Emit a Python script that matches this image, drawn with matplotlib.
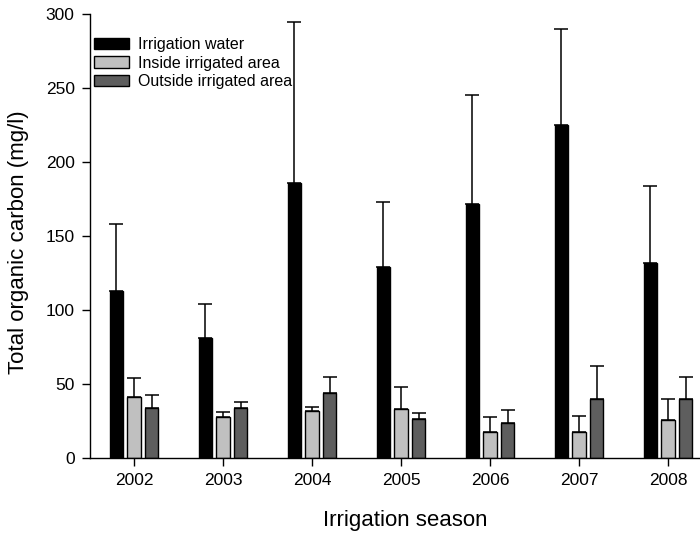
import numpy as np
import matplotlib

matplotlib.use("Agg")
import matplotlib.pyplot as plt

seasons = ["2002", "2003", "2004", "2005", "2006", "2007", "2008"]
series = ["Irrigation water", "Inside irrigated area", "Outside irrigated area"]

water_mean = [112.8, 81.3, 186.0, 128.8, 171.6, 225.0, 132.0]
water_sd = [45.1, 22.7, 108.4, 44.2, 73.7, 65.0, 52.0]

inside_mean = [41.4, 27.7, 32.0, 33.1, 17.8, 17.8, 25.5]
inside_sd = [12.4, 3.6, 2.7, 14.6, 10.1, 10.6, 14.6]

outside_mean = [34.0, 33.8, 43.7, 26.4, 23.9, 40.1, 39.6]
outside_sd = [8.8, 3.8, 10.8, 4.0, 8.3, 22.1, 14.9]

colors = ["#000000", "#c0c0c0", "#5e5e5e"]

plt.rcParams.update(
    {
        "font.family": ["Liberation Sans", "DejaVu Sans"],
        "figure.facecolor": "white",
        "axes.facecolor": "white",
    }
)

fig = plt.figure(figsize=(7.0, 5.33), dpi=100)
ax = fig.add_axes([90 / 700, 1 - 458 / 533, 610 / 700, 444 / 533])

x = np.arange(len(seasons))
width = 0.147
offsets = [-0.198, 0.0, 0.2]
means = [water_mean, inside_mean, outside_mean]
sds = [water_sd, inside_sd, outside_sd]

for name, color, off, m, s in zip(series, colors, offsets, means, sds):
    ax.bar(
        x + off,
        m,
        width,
        color=color,
        edgecolor="black",
        linewidth=1.0,
        label=name,
        zorder=2,
    )
    # one-sided (upper) error bars
    ax.errorbar(
        x + off,
        m,
        yerr=[np.zeros(len(s)), s],
        fmt="none",
        ecolor="black",
        elinewidth=1.1,
        capsize=4.7,
        capthick=1.1,
        zorder=1,
    )

ax.set_xlim(-0.494, 6.36)
ax.set_ylim(0, 300)
ax.set_yticks(np.arange(0, 301, 50))
ax.set_xticks(x)
ax.set_xticklabels(seasons)

ax.spines["top"].set_visible(False)
ax.spines["right"].set_visible(False)
ax.spines["left"].set_linewidth(1.0)
ax.spines["bottom"].set_linewidth(1.0)
ax.tick_params(direction="out", length=6, width=1.0, labelsize=12.5, pad=5)

ax.set_xlabel("Irrigation season", fontsize=16)
ax.xaxis.set_label_coords(0.516, -0.118)
ax.set_ylabel("Total organic carbon (mg/l)", fontsize=16)
ax.yaxis.set_label_coords(-0.100, 0.487)

ax.legend(
    loc="upper left",
    bbox_to_anchor=(0.007, 0.948),
    frameon=False,
    fontsize=11.5,
    handlelength=2.2,
    handleheight=0.75,
    handletextpad=0.55,
    labelspacing=0.22,
    borderaxespad=0,
    borderpad=0,
)

fig.savefig("out.png", dpi=100)
